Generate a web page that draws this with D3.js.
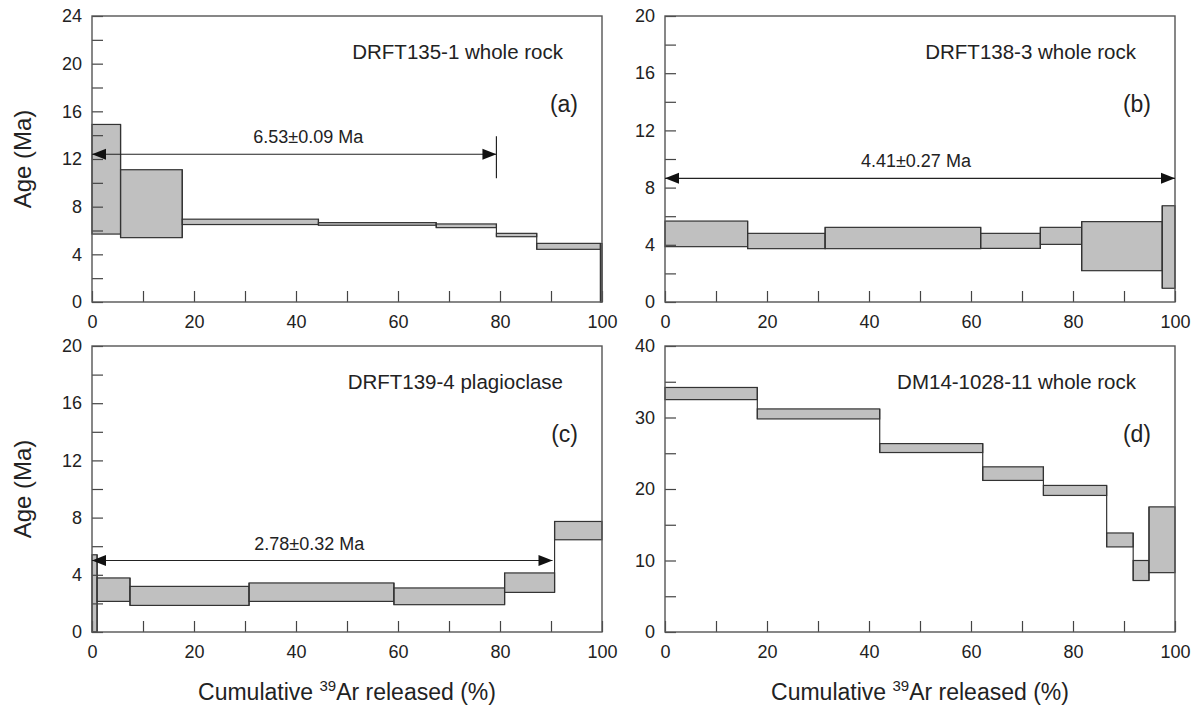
<!DOCTYPE html>
<meta charset="utf-8">
<script src="https://d3js.org/d3.v7.min.js"></script>
<style>
  body { margin: 0; background: #fff; }
  text { font-family: "Liberation Sans", Arial, sans-serif; fill: #222; }
</style>
<div id="my_dataviz"></div>
<script>
// step boundaries (cumulative 39Ar %) and age bands (Ma) for each sample
var cumA = [0, 5.6, 17.7, 44.4, 67.5, 79.3, 87.2, 99.7, 100];
var loA  = [5.7, 5.4, 6.5, 6.44, 6.24, 5.48, 4.42, 0];
var hiA  = [14.9, 11.1, 6.95, 6.66, 6.55, 5.76, 4.92, 4.9];

var cumB = [0, 16.2, 31.4, 61.9, 73.6, 81.7, 97.5, 100];
var loB  = [3.87, 3.73, 3.73, 3.75, 4.03, 2.19, 0.96];
var hiB  = [5.66, 4.8, 5.22, 4.8, 5.22, 5.62, 6.73];

var cumC = [0, 1.0, 7.45, 30.8, 59.2, 80.9, 90.7, 100];
var loC  = [0, 2.14, 1.86, 2.14, 1.91, 2.77, 6.45];
var hiC  = [5.4, 3.78, 3.19, 3.43, 3.08, 4.13, 7.73];

var cumD = [0, 18.1, 42.1, 62.3, 74.2, 86.6, 91.8, 94.9, 100];
var loD  = [32.5, 29.8, 25.1, 21.2, 19.1, 11.9, 7.2, 8.3];
var hiD  = [34.2, 31.2, 26.35, 23.1, 20.5, 13.85, 10.0, 17.5];

// sample names, panel letters, plateau ages
var samples = ["DRFT135-1 whole rock", "DRFT138-3 whole rock", "DRFT139-4 plagioclase", "DM14-1028-11 whole rock"];
var letters = ["(a)", "(b)", "(c)", "(d)"];
var plateauText = ["6.53\u00b10.09 Ma", "4.41\u00b10.27 Ma", "2.78\u00b10.32 Ma", null];
var plateauAge  = [12.4, 8.65, 5.0, null];   // y-level of the arrow
var plateauFrom = [0, 0, 0, null];
var plateauTo   = [79.3, 100, 90.3, null];
var yMax   = [24, 20, 20, 40];
var yMajor = [4, 4, 4, 10];
var yMinor = [2, 2, 2, 5];

var cums = [cumA, cumB, cumC, cumD];
var los  = [loA, loB, loC, loD];
var his  = [hiA, hiB, hiC, hiD];

// layout
var W = 1192, H = 706;
var colX = [92, 665], rowY = [16, 346];
var pw = 510, ph = 286;
var labelPos = [42.4, 49.2, 42.6, null];   // plateau label centre, in %

var svg = d3.select("#my_dataviz")
  .append("svg")
    .attr("width", W)
    .attr("height", H);

for (var p = 0; p < 4; p++) {
  var px = colX[p % 2], py = rowY[Math.floor(p / 2)];
  var g = svg.append("g").attr("transform", "translate(" + px + "," + py + ")");

  var x = d3.scaleLinear().domain([0, 100]).range([0, pw]);
  var y = d3.scaleLinear().domain([0, yMax[p]]).range([ph, 0]);

  // steps
  var steps = d3.range(los[p].length).map(function(i) {
    return {x0: cums[p][i], x1: cums[p][i + 1], lo: los[p][i], hi: his[p][i]};
  });
  // vertical connectors between neighbouring steps
  var joins = d3.range(1, steps.length).map(function(i) {
    var a = steps[i - 1], b = steps[i];
    return {x: b.x0, lo: Math.min(a.lo, b.lo), hi: Math.max(a.hi, b.hi)};
  });
  (function(x, y) {
    g.append("g")
      .selectAll("rect")
      .data(steps)
      .enter()
      .append("rect")
        .attr("x", function(d) { return x(d.x0); })
        .attr("width", function(d) { return x(d.x1) - x(d.x0); })
        .attr("y", function(d) { return y(d.hi); })
        .attr("height", function(d) { return y(d.lo) - y(d.hi); })
        .attr("fill", "#c0c0c0")
        .attr("stroke", "#333")
        .attr("stroke-width", 1.2);
    g.append("g")
      .selectAll("line")
      .data(joins)
      .enter()
      .append("line")
        .attr("x1", function(d) { return x(d.x); })
        .attr("x2", function(d) { return x(d.x); })
        .attr("y1", function(d) { return y(d.hi); })
        .attr("y2", function(d) { return y(d.lo); })
        .attr("stroke", "#333")
        .attr("stroke-width", 1.2);
  })(x, y);

  // axes, ticks pointing inward
  var maj = yMajor[p];
  var ya = g.append("g")
    .call(d3.axisLeft(y)
      .tickValues(d3.range(0, yMax[p] + 0.001, yMinor[p]))
      .tickSize(-11)
      .tickPadding(10)
      .tickFormat(function(d) { return d % maj === 0 ? d : ""; }));
  var xa = g.append("g")
    .attr("transform", "translate(0," + ph + ")")
    .call(d3.axisBottom(x)
      .tickValues(d3.range(0, 101, 10))
      .tickSize(-11)
      .tickPadding(13)
      .tickFormat(function(d) { return d % 20 === 0 ? d : ""; }));
  [ya, xa].forEach(function(a) {
    a.select(".domain").remove();
    a.selectAll("line").attr("stroke", "#444").attr("stroke-width", 1.2);
    a.selectAll("text")
      .attr("fill", "#222")
      .style("font-size", "18px")
      .style("font-family", "'Liberation Sans', Arial, sans-serif");
  });

  // frame
  g.append("rect")
    .attr("width", pw).attr("height", ph)
    .attr("fill", "none")
    .attr("stroke", "#555")
    .attr("stroke-width", 1.4);

  // labels
  g.append("text")
    .attr("x", pw - 39).attr("y", 43)
    .attr("text-anchor", "end")
    .style("font-size", "20.5px")
    .text(samples[p]);
  g.append("text")
    .attr("x", pw - 24).attr("y", 96)
    .attr("text-anchor", "end")
    .style("font-size", "23px")
    .text(letters[p]);

  // plateau arrow
  if (plateauAge[p] !== null) {
    var ay = y(plateauAge[p]), ax0 = x(plateauFrom[p]), ax1 = x(plateauTo[p]);
    g.append("line")
      .attr("x1", ax0).attr("x2", ax1)
      .attr("y1", ay).attr("y2", ay)
      .attr("stroke", "#222").attr("stroke-width", 1.2);
    g.append("path")
      .attr("d", "M" + ax0 + "," + ay + "l14,-5.5l0,11z")
      .attr("fill", "#111");
    g.append("path")
      .attr("d", "M" + ax1 + "," + ay + "l-14,-5.5l0,11z")
      .attr("fill", "#111");
    if (p === 0) {
      g.append("line")
        .attr("x1", ax1).attr("x2", ax1)
        .attr("y1", ay - 18).attr("y2", ay + 24)
        .attr("stroke", "#222").attr("stroke-width", 1.2);
    }
    g.append("text")
      .attr("x", x(labelPos[p])).attr("y", ay - 11)
      .attr("text-anchor", "middle")
      .style("font-size", "18px")
      .text(plateauText[p]);
  }

  // y title on left column
  if (p % 2 === 0) {
    g.append("text")
      .attr("transform", "translate(" + (31 - px) + "," + (ph / 2) + ") rotate(-90)")
      .attr("text-anchor", "middle")
      .style("font-size", "24px")
      .text("Age (Ma)");
  }
  // x title on bottom row
  if (p >= 2) {
    var t = g.append("text")
      .attr("x", pw / 2).attr("y", H - py - 6)
      .attr("text-anchor", "middle")
      .style("font-size", "23px");
    t.append("tspan").text("Cumulative ");
    t.append("tspan").attr("dy", -9).style("font-size", "15px").text("39");
    t.append("tspan").attr("dy", 9).text("Ar released (%)");
  }
}
</script>
